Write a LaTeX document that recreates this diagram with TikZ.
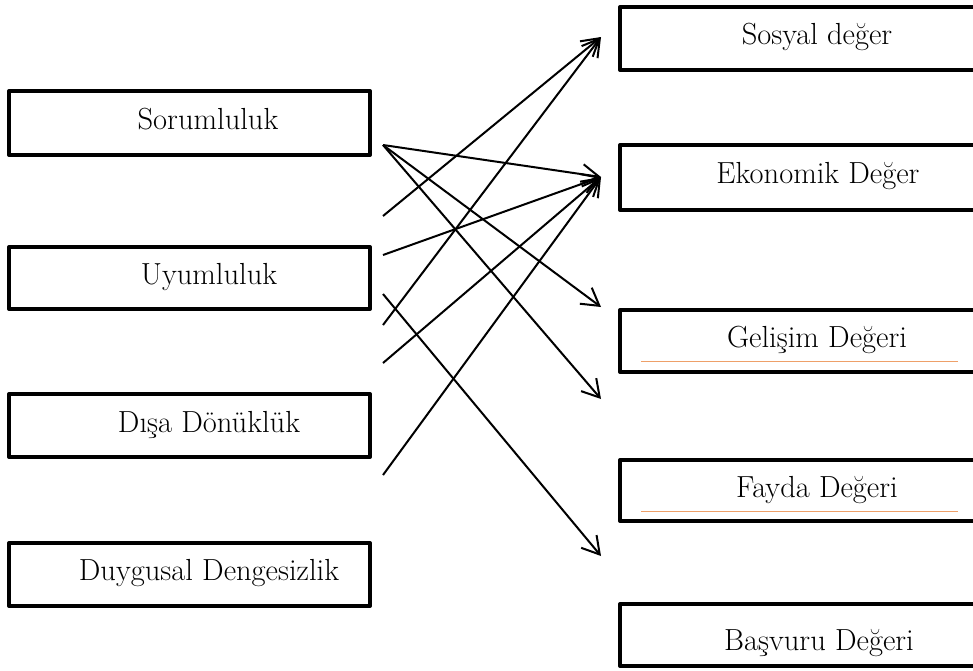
\documentclass[tikz,border=0pt]{standalone}
\usetikzlibrary{arrows.meta}
\definecolor{thinorange}{RGB}{238,160,105}
\tikzset{
  box/.style={draw=black, line width=4pt, line join=round, rectangle, inner sep=0pt},
  lbl/.style={anchor=base, inner sep=0pt, font=\fontsize{30.5}{36}\selectfont},
  conn/.style={draw=black, line width=2pt, -{Straight Barb[length=17pt,width=20pt,line width=2pt]}},
  rule/.style={draw=thinorange, line width=0.8pt}
}
\begin{document}
\begin{tikzpicture}[x=1pt,y=-1pt]
\useasboundingbox (0,0) rectangle (973,670);
\clip (0,0) rectangle (973,670);
% left boxes
\node[box, minimum width=361pt, minimum height=64pt] (sor) at (189.5,123) {};
\node[box, minimum width=361pt, minimum height=62pt] (uyu) at (189.5,278) {};
\node[box, minimum width=361pt, minimum height=63pt] (dis) at (189.5,425.5) {};
\node[box, minimum width=361pt, minimum height=63pt] (duy) at (189.5,574.5) {};
\node[lbl] (sorT) at (208,129) {Sorumluluk};
\node[lbl] (uyuT) at (209,284) {Uyumluluk};
\node[lbl] (disT) at (209,432) {Dışa Dönüklük};
\node[lbl] (duyT) at (209,580) {Duygusal Dengesizlik};
% right boxes (extend past the right edge)
\node[box, minimum width=380pt, minimum height=63pt] (sos) at (810,38.5) {};
\node[box, minimum width=380pt, minimum height=65pt] (eko) at (810,177.5) {};
\node[box, minimum width=380pt, minimum height=62pt] (gel) at (810,341) {};
\node[box, minimum width=380pt, minimum height=61pt] (fay) at (810,490.5) {};
\node[box, minimum width=380pt, minimum height=62pt] (bas) at (810,635) {};
\node[lbl] (sosT) at (817,44) {Sosyal değer};
\node[lbl] (ekoT) at (818,183) {Ekonomik Değer};
\node[lbl] (gelT) at (817,347) {Gelişim Değeri};
\node[lbl] (fayT) at (817,497) {Fayda Değeri};
\node[lbl] (basT) at (819,650) {Başvuru Değeri};
% thin rules inside two boxes
\coordinate (g1) at (641,361); \coordinate (g2) at (958,361);
\coordinate (f1) at (641,511); \coordinate (f2) at (958,511);
\draw[rule] (g1) -- (g2);
\draw[rule] (f1) -- (f2);
% connector ends
\coordinate (s1) at (383,145);
\coordinate (s2) at (383,216);
\coordinate (s3) at (383,255);
\coordinate (s4) at (383,294);
\coordinate (s5) at (383,325);
\coordinate (s6) at (383,363);
\coordinate (s7) at (383,475);
\coordinate (tSos) at (601,37);
\coordinate (tEko) at (601,177);
\coordinate (tGel) at (601,307);
\coordinate (tMid) at (601,399);
\coordinate (tBas) at (601,556);
% connectors
\draw[conn] (s1) -- (tEko);
\draw[conn] (s1) -- (tGel);
\draw[conn] (s1) -- (tMid);
\draw[conn] (s2) -- (tSos);
\draw[conn] (s3) -- (tEko);
\draw[conn] (s4) -- (tBas);
\draw[conn] (s5) -- (tSos);
\draw[conn] (s6) -- (tEko);
\draw[conn] (s7) -- (tEko);
\end{tikzpicture}
\end{document}
